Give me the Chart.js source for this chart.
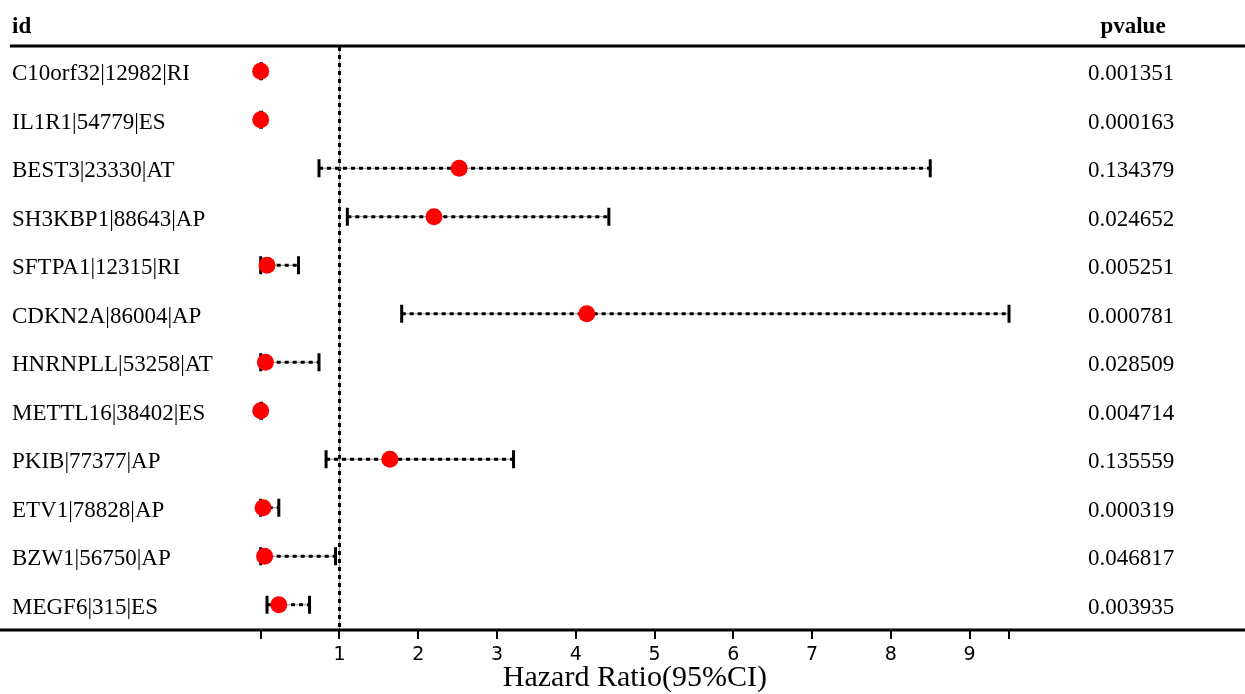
<!DOCTYPE html>
<html>
<head>
<meta charset="utf-8">
<script src="https://cdn.jsdelivr.net/npm/chart.js@4/dist/chart.umd.min.js"></script>
<style>
html,body{margin:0;padding:0;background:#fff;}
#wrap{width:1245px;height:694px;position:relative;}
</style>
</head>
<body>
<div id="wrap"><canvas id="c"></canvas></div>
<script>
const ids = ["C10orf32|12982|RI","IL1R1|54779|ES","BEST3|23330|AT","SH3KBP1|88643|AP","SFTPA1|12315|RI","CDKN2A|86004|AP","HNRNPLL|53258|AT","METTL16|38402|ES","PKIB|77377|AP","ETV1|78828|AP","BZW1|56750|AP","MEGF6|315|ES"];
const hr    = [0.00, 0.00, 2.52, 2.20, 0.08, 4.14, 0.06, 0.00, 1.64, 0.03, 0.05, 0.23];
const lower = [0.00, 0.00, 0.74, 1.10, 0.00, 1.79, 0.00, 0.00, 0.83, 0.00, 0.00, 0.08];
const upper = [0.01, 0.01, 8.50, 4.42, 0.48, 9.50, 0.74, 0.01, 3.21, 0.23, 0.95, 0.62];
const pvalues = ["0.001351","0.000163","0.134379","0.024652","0.005251","0.000781","0.028509","0.004714","0.135559","0.000319","0.046817","0.003935"];
const xTicks = [0,1,2,3,4,5,6,7,8,9,9.5];
const xTickLabels = ["","1","2","3","4","5","6","7","8","9",""];

const serif = "'Liberation Serif','Times New Roman',serif";

const forestPlugin = {
  id: 'forest',
  beforeDatasetsDraw(chart) {
    const ctx = chart.ctx;
    const xs = chart.scales.x, ys = chart.scales.y;
    const ca = chart.chartArea;
    ctx.save();
    const x1 = xs.getPixelForValue(1);
    ctx.strokeStyle = '#888'; ctx.lineWidth = 1; ctx.setLineDash([]);
    ctx.beginPath(); ctx.moveTo(x1, ca.top); ctx.lineTo(x1, ca.bottom); ctx.stroke();
    ctx.strokeStyle = '#000'; ctx.lineWidth = 3; ctx.setLineDash([4,4]);
    ctx.beginPath(); ctx.moveTo(x1, ca.top); ctx.lineTo(x1, ca.bottom); ctx.stroke();
    for (let i = 0; i < ids.length; i++) {
      const y = ys.getPixelForValue(i);
      const xl = xs.getPixelForValue(lower[i]);
      const xh = xs.getPixelForValue(upper[i]);
      ctx.setLineDash([]);
      ctx.strokeStyle = '#888'; ctx.lineWidth = 1;
      ctx.beginPath(); ctx.moveTo(xl, y); ctx.lineTo(xh, y); ctx.stroke();
      ctx.strokeStyle = '#000'; ctx.lineWidth = 3; ctx.setLineDash([4,4]);
      ctx.beginPath(); ctx.moveTo(xl, y); ctx.lineTo(xh, y); ctx.stroke();
      ctx.setLineDash([]); ctx.lineWidth = 3;
      ctx.beginPath();
      ctx.moveTo(xl, y - 9); ctx.lineTo(xl, y + 9);
      ctx.moveTo(xh, y - 9); ctx.lineTo(xh, y + 9);
      ctx.stroke();
    }
    ctx.restore();
  },
  afterDraw(chart) {
    const ctx = chart.ctx;
    const ys = chart.scales.y;
    const ca = chart.chartArea;
    ctx.save();
    ctx.setLineDash([]);
    ctx.strokeStyle = '#000'; ctx.lineWidth = 3;
    ctx.beginPath(); ctx.moveTo(10, ca.top - 1); ctx.lineTo(1245, ca.top - 1); ctx.stroke();
    ctx.beginPath(); ctx.moveTo(0, ca.bottom + 1); ctx.lineTo(1245, ca.bottom + 1); ctx.stroke();
    ctx.fillStyle = '#000';
    ctx.font = "bold 23px " + serif;
    ctx.textBaseline = 'middle';
    ctx.textAlign = 'left';
    ctx.fillText('id', 12, 27);
    ctx.textAlign = 'center';
    ctx.fillText('pvalue', 1133, 27);
    ctx.font = "23px " + serif;
    for (let i = 0; i < pvalues.length; i++) {
      ctx.fillText(pvalues[i], 1131, ys.getPixelForValue(i) + 3);
    }
    ctx.restore();
  }
};

new Chart(document.getElementById('c'), {
  type: 'scatter',
  data: {
    datasets: [{
      data: hr.map((v, i) => ({x: v, y: i})),
      backgroundColor: '#ff0000',
      borderColor: '#ff0000',
      pointRadius: 8.5,
      pointHoverRadius: 8.5,
      borderWidth: 0,
      clip: false
    }]
  },
  options: {
    responsive: true,
    maintainAspectRatio: false,
    animation: false,
    layout: { padding: { left: 12, right: 236, top: 47, bottom: 0 } },
    plugins: { legend: { display: false }, tooltip: { enabled: false } },
    scales: {
      x: {
        type: 'linear', min: 0, max: 9.5,
        afterBuildTicks(scale) { scale.ticks = xTicks.map(v => ({value: v})); },
        afterFit(scale) { scale.height = 65; },
        ticks: {
          autoSkip: false, maxRotation: 0, color: '#000', padding: 5,
          font: { family: "'DejaVu Sans', sans-serif", size: 19 },
          callback(v, i) { return xTickLabels[i]; }
        },
        grid: { drawOnChartArea: false, drawTicks: true, tickLength: 10, lineWidth: 2, color: '#000' },
        border: { display: false },
        title: { display: true, text: 'Hazard Ratio(95%CI)', color: '#000',
                 font: { family: serif, size: 30, lineHeight: 1.05 }, padding: 0 }
      },
      y: {
        type: 'linear', reverse: true, min: -0.5, max: 11.5,
        afterBuildTicks(scale) { scale.ticks = ids.map((_, i) => ({value: i})); },
        afterFit(scale) { scale.width = 248.7; },
        ticks: {
          autoSkip: false, crossAlign: 'far', color: '#000', labelOffset: 3,
          font: { family: serif, size: 23 },
          callback(v) { return ids[v] !== undefined ? ids[v] : ''; }
        },
        grid: { display: false },
        border: { display: false }
      }
    }
  },
  plugins: [forestPlugin]
});
</script>
</body>
</html>
